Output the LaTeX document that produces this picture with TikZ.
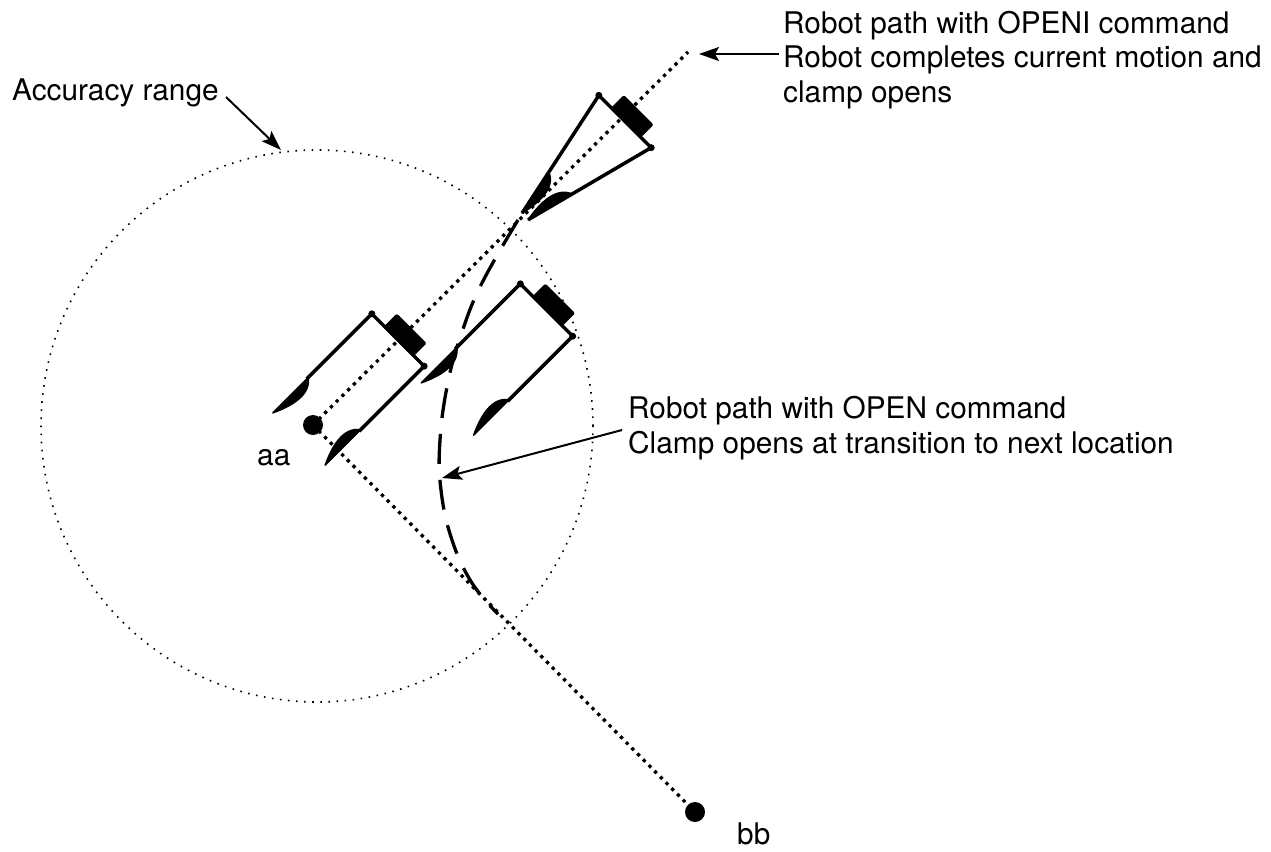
\documentclass[tikz,border=0pt]{standalone}
\usepackage{fontspec}
\setmainfont{TeX Gyre Heros}
\usetikzlibrary{arrows.meta,calc}

% leaf-shaped gripper pad from #1 (root) to #2 (tip), bulging to side #3 (+-90)
\newcommand\knife[3]{%
  \filldraw[line width=1.5pt, line join=round] (#1)
    .. controls ($(#1)!0.2!(#2)!14pt!#3:(#2)$) and ($(#1)!0.62!(#2)!9pt!#3:(#2)$)
    .. (#2) -- cycle;}

% open parallel gripper, back edge centred at (#1,#2), fingers pointing down-left
\newcommand\opengripper[2]{%
  \begin{scope}[shift={(#1,#2)}, rotate=225]
    \fill[rounded corners=1.5pt] (-18,-22.6) rectangle (1,19.5);
    \draw[frame] (92,37) -- (0,37) -- (0,-37) -- (92,-37);
    \fill (0,37) circle (3.5pt) (0,-37) circle (3.5pt);
    \knife{90,37}{140,37}{90}
    \knife{90,-37}{140,-37}{-90}
  \end{scope}}

% closing gripper, fingers converging to the tip
\newcommand\closedgripper[2]{%
  \begin{scope}[shift={(#1,#2)}, rotate=225]
    \fill[rounded corners=1.5pt] (-18,-22.6) rectangle (1,19.5);
    \draw[frame] (137.5,8) -- (0,37) -- (0,-37) -- (138,-1);
    \fill (0,37) circle (3.5pt) (0,-37) circle (3.5pt);
    \coordinate (kl) at ($(137.5,8)!49pt!(0,37)$);
    \coordinate (kr) at ($(138,-1)!51pt!(0,-37)$);
    \knife{kl}{137.5,8}{90}
    \knife{kr}{138,-1}{-90}
  \end{scope}}

\begin{document}
\begin{tikzpicture}[x=1pt, y=-1pt,
  frame/.style={line width=3.5pt, line join=round},
  pathdots/.style={line width=3.3pt, dash pattern=on 3.3pt off 4.8pt},
  rangedots/.style={line width=1.6pt, dash pattern=on 1.6pt off 6.5pt},
  openpath/.style={line width=3.3pt, dash pattern=on 30pt off 16pt},
  pointer/.style={line width=2pt, -{Stealth[length=20pt, width=14pt, inset=4pt]}},
  txt/.style={font=\fontsize{29.8}{34.5}\selectfont, inner sep=0pt, anchor=base west, align=left},
  spot/.style={circle, fill, inner sep=0pt, minimum size=20pt}]

  \useasboundingbox (0,0) rectangle (1271,851);

  % accuracy range around the target point
  \draw[rangedots] (317,426) circle (276pt);

  % target points
  \node[spot] (aa) at (313,425) {};
  \node[spot] (bb) at (695,812) {};
  \coordinate (top) at (688,52);

  % OPENI path and onward path
  \draw[pathdots] (aa.center) -- (top);
  \draw[pathdots] (aa.center) -- (bb.center);

  % OPEN path: cut corner towards bb
  \draw[openpath] plot[smooth, tension=0.7] coordinates
    {(518,220) (482,283) (462,332) (448,382) (440,440) (441,490) (452,540) (472,583) (498,614)};

  % grippers
  \opengripper{398}{340}
  \opengripper{546.5}{310}
  \closedgripper{625}{121.5}

  % texts (base anchor sits on the last line)
  \node[txt] (openi) at (783,102) {Robot path with OPENI command\\Robot completes current motion and\\clamp opens};
  \node[txt] (acc) at (12,100) {Accuracy range};
  \node[txt] (open) at (628,453) {Robot path with OPEN command\\Clamp opens at transition to next location};
  \node[txt] (la) at (257,465) {aa};
  \node[txt] (lb) at (737,844) {bb};

  % pointers
  \coordinate (p1s) at (779,54);  \coordinate (p1e) at (699,54);
  \coordinate (p2s) at (226,97);  \coordinate (p2e) at (281,150);
  \coordinate (p3s) at (622,430); \coordinate (p3e) at (442,478);
  \draw[pointer] (p1s) -- (p1e);
  \draw[pointer] (p2s) -- (p2e);
  \draw[pointer] (p3s) -- (p3e);
\end{tikzpicture}
\end{document}
